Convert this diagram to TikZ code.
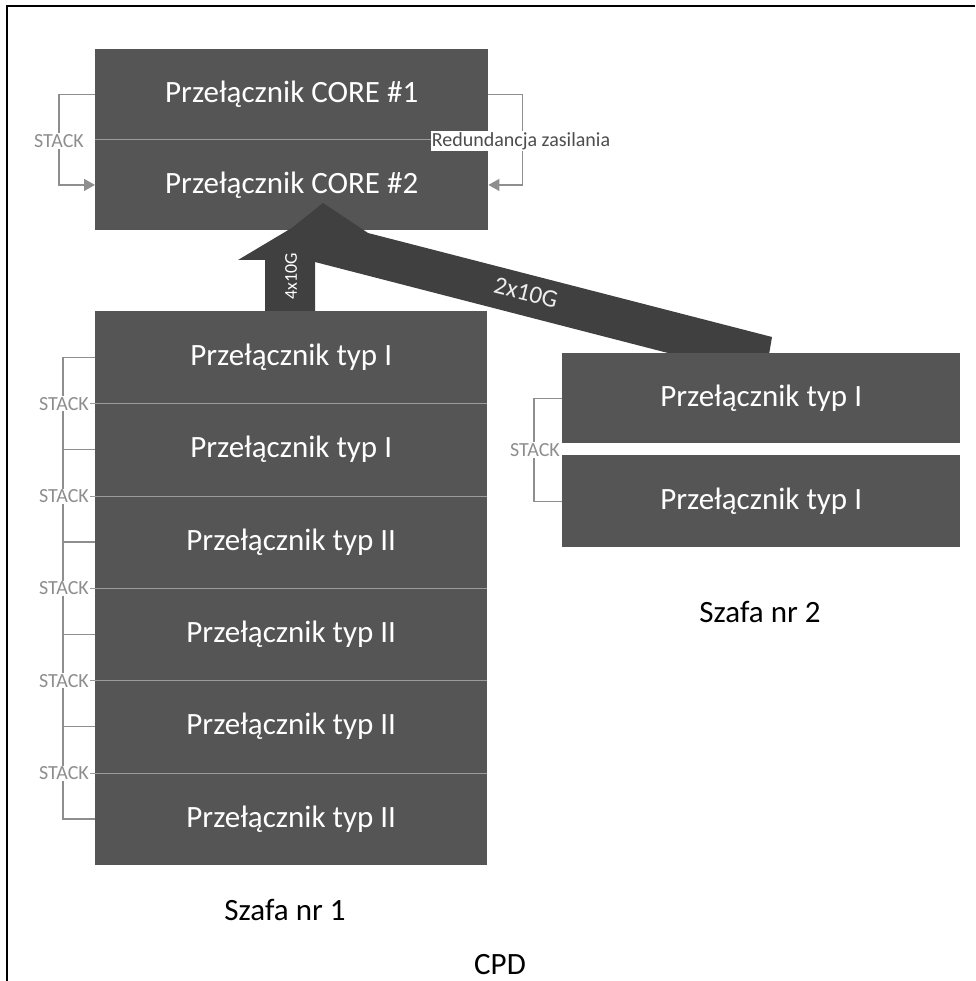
\documentclass[tikz,border=0pt]{standalone}
\usepackage{fontspec}
\setmainfont{Carlito}
\usetikzlibrary{arrows.meta,calc}
\definecolor{blk}{HTML}{555555}
\definecolor{arr}{HTML}{404040}
\definecolor{lnk}{HTML}{8E8E8E}
\definecolor{divc}{HTML}{9A9A9A}
\begin{document}
\begin{tikzpicture}[x=1pt,y=-1pt,
  swbox/.style={fill=blk, draw=none, anchor=north west, inner sep=0pt, text=white,
    font=\fontsize{31}{31}\selectfont},
  link/.style={draw=lnk, line width=1.4pt},
  linkarrow/.style={link, -{Triangle[length=11pt,width=12pt]}},
  stacklbl/.style={fill=white, inner sep=1pt, text=lnk, font=\fontsize{20}{20}\selectfont},
  caption/.style={text=black, font=\fontsize{31}{31}\selectfont},
  divline/.style={draw=divc, line width=0.9pt},
  bigarrow/.style={fill=arr, draw=none}
]
\useasboundingbox (0,0) rectangle (975,981);
\fill[white] (0,0) rectangle (975,981);
\draw[line width=2pt] (7,981) -- (7,6) -- (975,6);

% CORE block
\node[swbox, minimum width=393pt, minimum height=90.5pt] (core1) at (95,49) {Przełącznik CORE \#1};
\node[swbox, minimum width=393pt, minimum height=90.5pt] (core2) at (95,139.5) {Przełącznik CORE \#2};
\draw[divline] (core1.south west) -- (core1.south east);

% core brackets
\draw[linkarrow] (core1.west) -- ++(-36,0) |- (core2.west);
\node[stacklbl] (stk0) at (59,141) {STACK};
\draw[linkarrow] (core1.east) -- ++(34,0) |- (core2.east);
\node[fill=white, inner sep=1pt, text=black!70, font=\fontsize{20}{20}\selectfont] (red) at (521,141) {Redundancja zasilania};

% big arrows
\fill[bigarrow] (265,312) -- (265,260) -- (238,260) -- (290,229) -- (342,260) -- (315,260) -- (315,312) -- cycle;
\fill[bigarrow] (772,337) -- (368,233) -- (323,203) -- (288,231) -- (315,262) -- (765,378) -- cycle;
\node[rotate=90, text=white, font=\fontsize{18}{18}\selectfont] (l4) at (291,276) {4x10G};
\node[rotate=-14.2, text=white!85!gray, font=\fontsize{25}{25}\selectfont] (l2) at (526,293) {2x10G};

% Szafa 1
\foreach \i/\t in {1/Przełącznik typ I, 2/Przełącznik typ I, 3/Przełącznik typ II, 4/Przełącznik typ II, 5/Przełącznik typ II, 6/Przełącznik typ II} {
  \node[swbox, minimum width=392pt, minimum height=92.33pt] (s1r\i) at (95,{311+(\i-1)*92.33}) {\t};
}
\foreach \i/\j in {1/2,2/3,3/4,4/5,5/6} {
  \draw[divline] (s1r\i.south west) -- (s1r\i.south east);
  \draw[link] (s1r\i.west) -- ++(-32,0) |- (s1r\j.west);
  \node[stacklbl] (stk\i) at ($(s1r\i.south west)+(-31,0)$) {STACK};
  \draw[divline] (stk\i.east) -- (s1r\i.south west);
}

% Szafa 2
\node[swbox, minimum width=398pt, minimum height=90pt] (s2a) at (562,353) {Przełącznik typ I};
\node[swbox, minimum width=398pt, minimum height=92pt] (s2b) at (562,455) {Przełącznik typ I};
\draw[link] (s2a.west) -- ++(-28,0) |- (s2b.west);
\node[stacklbl] (stk6) at (535,450) {STACK};

% captions
\node[caption] (sz1) at (285,910) {Szafa nr 1};
\node[caption] (sz2) at (760,612) {Szafa nr 2};
\node[caption] (cpd) at (500,965) {CPD};
\end{tikzpicture}
\end{document}
